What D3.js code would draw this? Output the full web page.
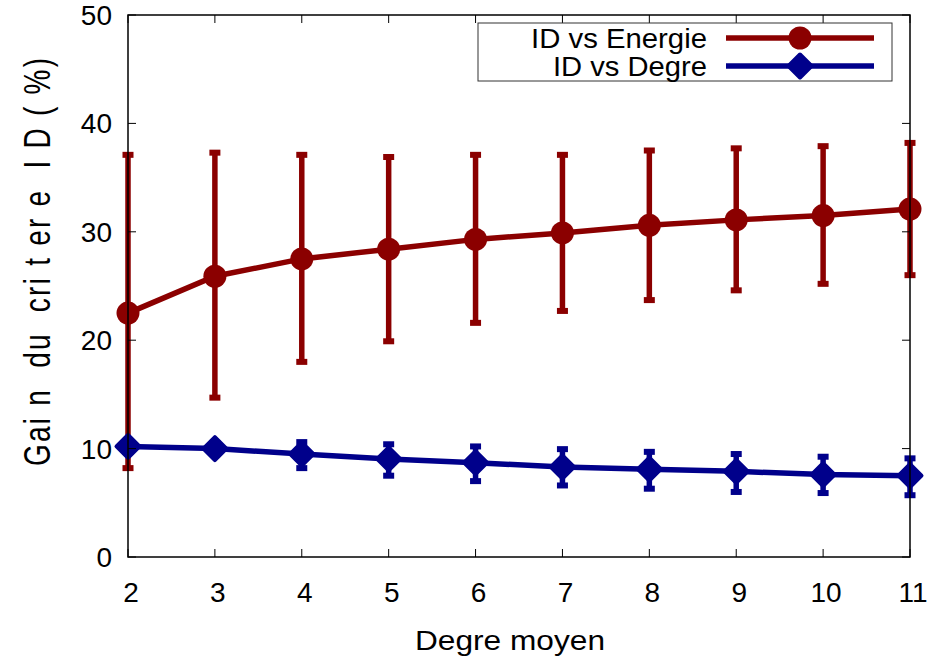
<!DOCTYPE html>
<html>
<head>
<meta charset="utf-8">
<script src="https://cdn.jsdelivr.net/npm/d3@7"></script>
<style>
  body { margin: 0; background: #fff; }
  svg text { font-family: "Liberation Sans", Arial, sans-serif; fill: #000; }
</style>
</head>
<body>
<svg id="chart" width="948" height="660"></svg>
<script>
// données
const degres = [2, 3, 4, 5, 6, 7, 8, 9, 10, 11];

const energieMoy = [22.5, 25.9, 27.5, 28.4, 29.3, 29.9, 30.6, 31.1, 31.5, 32.1];
const energieMin = [8.2, 14.7, 18.0, 19.9, 21.6, 22.7, 23.7, 24.6, 25.2, 26.0];
const energieMax = [37.1, 37.3, 37.1, 36.9, 37.1, 37.1, 37.5, 37.7, 37.9, 38.2];

const degreMoy = [10.2, 10.0, 9.5, 9.05, 8.7, 8.3, 8.1, 7.9, 7.6, 7.5];
const degreMin = [9.7, 9.5, 8.2, 7.5, 7.0, 6.6, 6.3, 6.0, 5.9, 5.7];
const degreMax = [10.7, 10.5, 10.6, 10.4, 10.2, 9.95, 9.7, 9.5, 9.25, 9.1];

const yTicks = [0, 10, 20, 30, 40, 50];
const legendLabels = ["ID vs Energie", "ID vs Degre"];

const svg = d3.select("#chart");
const plotLeft = 128, plotRight = 910, plotTop = 15, plotBottom = 557;

const x = d3.scaleLinear().domain([2, 11]).range([plotLeft, plotRight]);
const y = d3.scaleLinear().domain([0, 50]).range([plotBottom, plotTop]);

const series = [
    { name: legendLabels[0], color: "#8b0000", shape: "circle", moy: energieMoy, min: energieMin, max: energieMax, len: 176 },
    { name: legendLabels[1], color: "#00008b", shape: "diamond", moy: degreMoy, min: degreMin, max: degreMax, len: 154 }
];

// forme des marqueurs
function drawMarker(g, shape, color, cx, cy) {
    if (shape === "circle") {
        g.append("circle").attr("cx", cx).attr("cy", cy).attr("r", 11.5).attr("fill", color);
    } else {
        const s = 11.5;
        g.append("path")
            .attr("d", `M${cx - s},${cy} L${cx},${cy - s} L${cx + s},${cy} L${cx},${cy + s} Z`)
            .attr("fill", color)
            .attr("stroke", color)
            .attr("stroke-width", 4)
            .attr("stroke-linejoin", "round");
    }
}

const line = d3.line().x(d => x(d[0])).y(d => y(d[1]));

series.forEach(s => {
    const g = svg.append("g");
    const pts = degres.map((d, i) => [d, s.moy[i], s.min[i], s.max[i]]);

    // barres d'erreur
    pts.forEach(p => {
        g.append("line")
            .attr("x1", x(p[0])).attr("x2", x(p[0]))
            .attr("y1", y(p[2])).attr("y2", y(p[3]))
            .attr("stroke", s.color).attr("stroke-width", 5.5);
        [p[2], p[3]].forEach(v => {
            g.append("rect")
                .attr("x", x(p[0]) - 5.5).attr("y", y(v) - 3)
                .attr("width", 11).attr("height", 6)
                .attr("fill", s.color);
        });
    });

    g.append("path")
        .datum(pts)
        .attr("d", line)
        .attr("fill", "none")
        .attr("stroke", s.color)
        .attr("stroke-width", 5.5);

    pts.forEach(p => drawMarker(g, s.shape, s.color, x(p[0]), y(p[1])));
});

// graduations
const axes = svg.append("g");
const tickLen = 8;
yTicks.forEach(t => {
    axes.append("line").attr("x1", plotLeft).attr("x2", plotLeft + tickLen)
        .attr("y1", y(t)).attr("y2", y(t)).attr("stroke", "#000");
    axes.append("line").attr("x1", plotRight).attr("x2", plotRight - tickLen)
        .attr("y1", y(t)).attr("y2", y(t)).attr("stroke", "#000");
    axes.append("text")
        .attr("x", plotLeft - 16).attr("y", y(t))
        .attr("dy", "0.36em")
        .attr("text-anchor", "end")
        .attr("font-size", 28)
        .text(t);
});
degres.forEach(d => {
    axes.append("line").attr("x1", x(d)).attr("x2", x(d))
        .attr("y1", plotBottom).attr("y2", plotBottom - tickLen).attr("stroke", "#000");
    axes.append("line").attr("x1", x(d)).attr("x2", x(d))
        .attr("y1", plotTop).attr("y2", plotTop + tickLen).attr("stroke", "#000");
    axes.append("text")
        .attr("x", x(d) + 3).attr("y", 602)
        .attr("text-anchor", "middle")
        .attr("font-size", 28)
        .text(d);
});

axes.append("rect")
    .attr("x", plotLeft).attr("y", plotTop)
    .attr("width", plotRight - plotLeft).attr("height", plotBottom - plotTop)
    .attr("fill", "none").attr("stroke", "#000").attr("stroke-width", 1.5);

// titres des axes
svg.append("text")
    .attr("x", 510).attr("y", 650)
    .attr("text-anchor", "middle")
    .attr("font-size", 28)
    .attr("textLength", 190)
    .attr("lengthAdjust", "spacingAndGlyphs")
    .text("Degre moyen");

svg.append("text")
    .attr("transform", "translate(50,262) rotate(-90) scale(1,1.3)")
    .attr("text-anchor", "middle")
    .attr("font-size", 28)
    .attr("textLength", 408)
    .attr("lengthAdjust", "spacing")
    .style("white-space", "pre")
    .text("Gai n  du  cri t er e  I D ( %)");

// légende
const legend = svg.append("g");
legend.append("rect")
    .attr("x", 478).attr("y", 23).attr("width", 414).attr("height", 58)
    .attr("fill", "#fff").attr("stroke", "#333").attr("stroke-width", 1);
series.forEach((s, i) => {
    const ly = 38 + i * 28;
    legend.append("text")
        .attr("x", 707).attr("y", ly)
        .attr("dy", "0.36em")
        .attr("text-anchor", "end")
        .attr("font-size", 28)
        .attr("textLength", s.len)
        .attr("lengthAdjust", "spacingAndGlyphs")
        .text(s.name);
    legend.append("line")
        .attr("x1", 726).attr("x2", 874).attr("y1", ly).attr("y2", ly)
        .attr("stroke", s.color).attr("stroke-width", 5.5);
    drawMarker(legend, s.shape, s.color, 800, ly);
});
</script>
</body>
</html>
